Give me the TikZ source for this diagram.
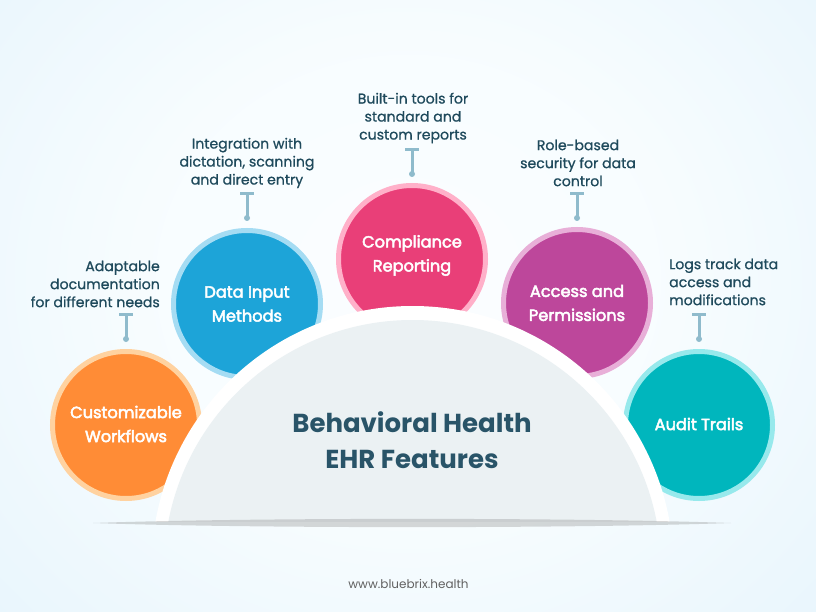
\documentclass[tikz,border=0pt]{standalone}
\usepackage{fontspec}
\setmainfont{Poppins}
\newfontfamily\popmed[FakeBold=3]{Poppins}
\newfontfamily\popnote[FakeBold=0.8]{Poppins}
\usetikzlibrary{arrows.meta}
\definecolor{tealtxt}{HTML}{1F4A5C}
\definecolor{titletxt}{HTML}{295468}
\definecolor{connc}{HTML}{8FBBCC}
\pgfdeclareradialshading{bgshade}{\pgfpoint{0bp}{0bp}}{
  rgb(0bp)=(0.985,0.995,1);
  rgb(14bp)=(0.97,0.99,0.998);
  rgb(32bp)=(0.905,0.96,0.99);
  rgb(50bp)=(0.88,0.95,0.985)}
\tikzset{
  feature/.style={circle,inner sep=0pt,minimum size=147pt,line width=5pt,text=white,align=center,
    font=\popmed\fontsize{16.2}{24}\selectfont},
  note/.style={text=tealtxt,font=\popnote\fontsize{14.1}{18}\selectfont,inner sep=0pt},
  tee/.style={draw=connc,line width=3pt,{Bar[width=14pt,line width=2.6pt]}-},
  dot/.style={fill=connc},
}
\begin{document}
\begin{tikzpicture}[x=1pt,y=-1pt]
\useasboundingbox (0,0) rectangle (816,612);
\fill[shading=bgshade] (-62,-140) rectangle (878,700);
\clip (0,0) rectangle (816,612);
% circles
\node[feature,fill={rgb,255:red,255;green,140;blue,54},draw={rgb,255:red,255;green,210;blue,160}] (c1) at (126,425) {};
\node[feature,fill={rgb,255:red,29;green,164;blue,216},draw={rgb,255:red,165;green,220;blue,243}] (c2) at (247,304) {};
\node[feature,fill={rgb,255:red,233;green,63;blue,120},draw={rgb,255:red,255;green,176;blue,201}] (c3) at (412,259) {};
\node[feature,fill={rgb,255:red,189;green,71;blue,155},draw={rgb,255:red,232;green,175;blue,216}] (c4) at (577,303) {};
\node[feature,fill={rgb,255:red,0;green,182;blue,189},draw={rgb,255:red,151;green,233;blue,236}] (c5) at (699,425) {};
\node[feature,draw=none] (l1) at (126,424) {Customizable\\Workflows};
\node[feature,draw=none] (l2) at (247,304) {Data Input\\Methods};
\node[feature,draw=none] (l3) at (412,255.5) {Compliance\\Reporting};
\node[feature,draw=none] (l4) at (577,303) {Access and\\Permissions};
\node[feature,draw=none] (l5) at (699,424) {Audit Trails};
% central dome
\begin{scope}
\clip (0,0) rectangle (816,521);
\fill[white] (412.5,567) circle (261);
\fill[fill={rgb,255:red,235;green,241;blue,243}] (412.5,568.6) circle (248.6);
\end{scope}
\fill[black!50,opacity=.3] (93,523) .. controls (250,517.5) and (575,517.5) .. (731,523) .. controls (575,528.5) and (250,528.5) .. (93,523) -- cycle;
\node[text=titletxt,font=\bfseries\fontsize{26}{35.5}\selectfont,align=center,inner sep=0pt] (title) at (412,440) {Behavioral Health\\EHR Features};
% notes
\node[note,align=right,anchor=east] (n1) at (160,284) {Adaptable\\documentation\\for different needs};
\node[note,align=center] (n2) at (247,163) {Integration with\\dictation, scanning\\and direct entry};
\node[note,align=center] (n3) at (413,118) {Built-in tools for\\standard and\\custom reports};
\node[note,align=center] (n4) at (578,163) {Role-based\\security for data\\control};
\node[note,align=left,anchor=west] (n5) at (669,282) {Logs track data\\access and\\modifications};
% connectors
\coordinate (t1) at (126,313); \coordinate (d1) at (126,339);
\coordinate (t2) at (247,192); \coordinate (d2) at (247,218);
\coordinate (t3) at (412,148); \coordinate (d3) at (412,174);
\coordinate (t4) at (577,192); \coordinate (d4) at (577,218);
\coordinate (t5) at (699,313); \coordinate (d5) at (699,339);
\draw[tee] (t1) -- (d1); \fill[dot] (d1) circle (3);
\draw[tee] (t2) -- (d2); \fill[dot] (d2) circle (3);
\draw[tee] (t3) -- (d3); \fill[dot] (d3) circle (3);
\draw[tee] (t4) -- (d4); \fill[dot] (d4) circle (3);
\draw[tee] (t5) -- (d5); \fill[dot] (d5) circle (3);
\node[text=black!62,font=\fontsize{12}{14}\selectfont,inner sep=0pt] (web) at (408.5,584) {www.bluebrix.health};
\end{tikzpicture}
\end{document}
